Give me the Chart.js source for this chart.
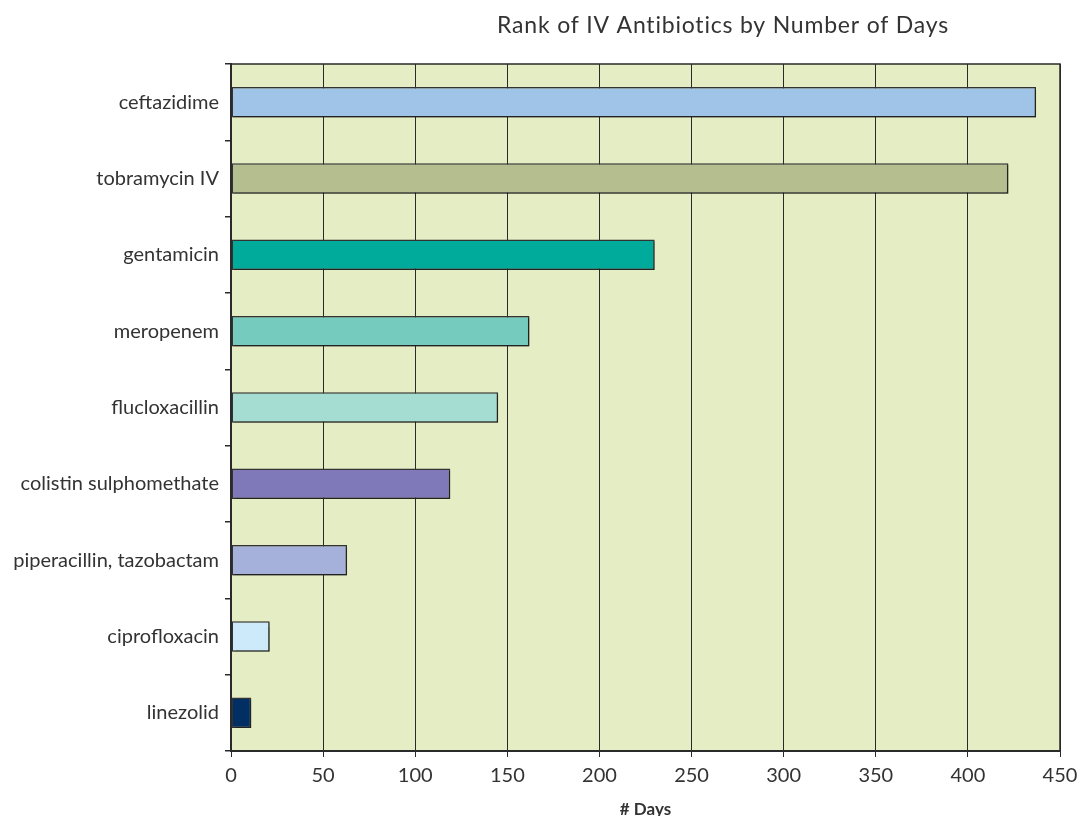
<!DOCTYPE html>
<html>
<head>
<meta charset="utf-8">
<script src="https://cdn.jsdelivr.net/npm/chart.js@4"></script>
<style>
  html, body { margin: 0; padding: 0; background: #ffffff; }
  #wrap { width: 1081px; height: 816px; position: relative; }
</style>
</head>
<body>
<div id="wrap"><canvas id="chart" width="1081" height="816"></canvas></div>
<script>
// Antibiotics ranked by number of IV days
const drugs = [
  'ceftazidime', 'tobramycin IV', 'gentamicin', 'meropenem', 'flucloxacillin',
  'colistin sulphomethate', 'piperacillin, tazobactam', 'ciprofloxacin', 'linezolid'
];
const days = [437, 422, 230, 162, 145, 119, 63, 21, 11];
const barColors = [
  '#a0c4e8', '#b4be8f', '#00ab9c', '#75cbbe', '#a5ddd2',
  '#8079b9', '#a5b1db', '#cdeafa', '#012f63'
];
const xTicks = [0, 50, 100, 150, 200, 250, 300, 350, 400, 450];
const chartTitle = 'Rank of IV Antibiotics by Number of Days';
const xTitle = '# Days';

const FONT = 'Lato, "Noto Sans", sans-serif';
const INK = '#333333';

// pale plot background, outer frame and chart heading
const frame = {
  id: 'frame',
  beforeDraw(chart) {
    const { ctx, chartArea: a } = chart;
    ctx.save();
    ctx.fillStyle = '#e4edc3';
    ctx.fillRect(a.left, a.top, a.right - a.left, a.bottom - a.top);
    ctx.restore();
  },
  afterDatasetsDraw(chart) {
    const { ctx, chartArea: a } = chart;
    ctx.save();
    ctx.strokeStyle = '#2a2a2a';
    ctx.lineWidth = 1.5;
    ctx.beginPath();
    ctx.moveTo(a.left, a.top);
    ctx.lineTo(a.right, a.top);
    ctx.lineTo(a.right, a.bottom);
    ctx.stroke();
    ctx.restore();
  },
  afterDraw(chart) {
    const { ctx } = chart;
    ctx.save();
    ctx.fillStyle = INK;
    ctx.font = '23px ' + FONT;
    ctx.letterSpacing = '0.8px';
    ctx.textAlign = 'center';
    ctx.textBaseline = 'alphabetic';
    ctx.fillText(chartTitle, 723, 33);
    ctx.restore();
  }
};

// soft drop shadow under the bars
const barShadow = {
  id: 'barShadow',
  beforeDatasetDraw(chart) {
    const ctx = chart.ctx;
    ctx.save();
    ctx.shadowColor = 'rgba(0,0,0,0.35)';
    ctx.shadowOffsetX = 1.5;
    ctx.shadowOffsetY = 1.5;
    ctx.shadowBlur = 1;
  },
  afterDatasetDraw(chart) {
    chart.ctx.restore();
  }
};

new Chart(document.getElementById('chart'), {
  type: 'bar',
  data: {
    labels: drugs,
    datasets: [{
      data: days,
      backgroundColor: barColors,
      borderColor: '#333333',
      borderWidth: 1.5,
      borderSkipped: false,
      barPercentage: 0.4,
      categoryPercentage: 1.0
    }]
  },
  options: {
    indexAxis: 'y',
    responsive: false,
    animation: false,
    events: [],
    layout: { padding: { top: 64, right: 21, left: 0, bottom: 0 } },
    plugins: {
      legend: { display: false },
      title: { display: false },
      tooltip: { enabled: false }
    },
    scales: {
      x: {
        type: 'linear',
        min: 0,
        max: 450,
        afterBuildTicks(scale) { scale.ticks = xTicks.map(v => ({ value: v })); },
        afterFit(scale) {
          scale.height = 65;
          scale.paddingRight = 0;
          scale.paddingLeft = 0;
        },
        border: { display: true, color: '#2a2a2a', width: 2 },
        grid: {
          color: '#2a2a2a',
          lineWidth: 1,
          drawOnChartArea: true,
          drawTicks: true,
          tickLength: 6,
          tickColor: '#2a2a2a'
        },
        ticks: {
          color: INK,
          font: { family: FONT, size: 20 },
          padding: 7,
          maxRotation: 0
        },
        title: {
          display: true,
          text: xTitle,
          color: INK,
          font: { family: FONT, size: 17, weight: 'bold' },
          padding: { top: 0, bottom: -4 }
        }
      },
      y: {
        type: 'category',
        afterFit(scale) { scale.width = 231; },
        border: { display: true, color: '#2a2a2a', width: 2 },
        grid: {
          offset: true,
          drawOnChartArea: false,
          drawTicks: true,
          tickLength: 6,
          tickColor: '#2a2a2a',
          lineWidth: 1.5
        },
        ticks: {
          color: INK,
          font: { family: FONT, size: 20 },
          padding: 6
        }
      }
    }
  },
  plugins: [frame, barShadow]
});
</script>
</body>
</html>
